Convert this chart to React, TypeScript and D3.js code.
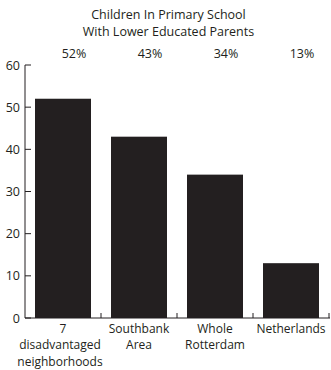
import React from "react";
import * as d3 from "d3";

const categories = ["7|disadvantaged|neighborhoods", "Southbank|Area", "Whole|Rotterdam", "Netherlands"];
const values = [52, 43, 34, 13];
const percentLabels = ["52%", "43%", "34%", "13%"];
const yTicks = [0, 10, 20, 30, 40, 50, 60];
const titleLines = ["Children In Primary School", "With Lower Educated Parents"];

const W = 331;
const H = 370;
const left = 25;
const right = 329;
const top = 65;
const bottom = 318;
const color = "#231f20";
const font = "'Open Sans', 'Noto Sans', sans-serif";
const fs = 12.5;
const fsCat = 12;

export default function App() {
  const x = d3.scaleBand<string>().domain(categories).range([left, right]).paddingInner(0).paddingOuter(0);
  const y = d3.scaleLinear().domain([0, 60]).range([bottom, top]);
  const step = x.step();
  const inset = 10;
  return (
    <svg width={W} height={H} style={{ position: "absolute", left: 0, top: 0 }} fontFamily={font}>
      {titleLines.map((t, i) => (
        <text key={t} x={168.5} y={19 + i * 16.5} textAnchor="middle" fontSize={fs} fill={color}>
          {t}
        </text>
      ))}
      {percentLabels.map((p, i) => (
        <text key={p} x={(x(categories[i]) as number) + step / 2 + 11} y={58} textAnchor="middle" fontSize={fs} fill={color}>
          {p}
        </text>
      ))}
      {categories.map((c, i) => (
        <rect
          key={c}
          x={(x(c) as number) + inset}
          y={y(values[i])}
          width={step - 2 * inset}
          height={y(0) - y(values[i])}
          fill={color}
        />
      ))}
      <line x1={left} x2={left} y1={top} y2={bottom} stroke={color} strokeWidth={1} />
      <line x1={left} x2={right + 1} y1={bottom} y2={bottom} stroke={color} strokeWidth={1} />
      {yTicks.map((t) => (
        <g key={t}>
          <line x1={left} x2={left + 6} y1={y(t)} y2={y(t)} stroke={color} />
          <text x={20} y={y(t) + 4.5} textAnchor="end" fontSize={fs} fill={color}>
            {t}
          </text>
        </g>
      ))}
      {categories.map((c) => (
        <line key={"t" + c} x1={(x(c) as number) + step} x2={(x(c) as number) + step} y1={bottom} y2={bottom - 5} stroke={color} />
      ))}
      {categories.map((c) =>
        c.split("|").map((line, j) => (
          <text
            key={"l" + c + j}
            x={(x(c) as number) + step / 2 - (j > 0 && c.startsWith("7") ? 3 : 0)}
            y={333 + j * 16.4}
            textAnchor="middle"
            fontSize={fsCat}
            fill={color}
          >
            {line}
          </text>
        ))
      )}
    </svg>
  );
}
